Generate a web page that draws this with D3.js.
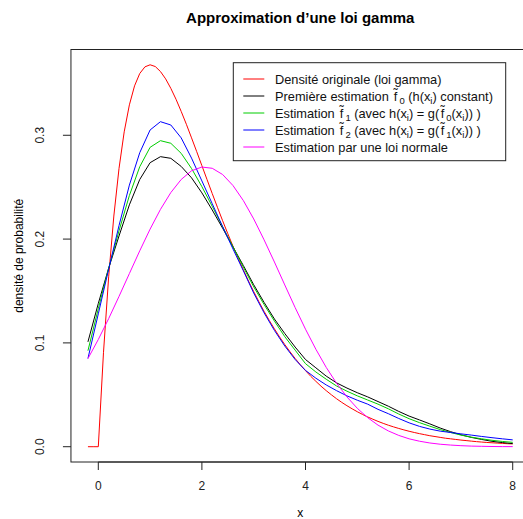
<!DOCTYPE html>
<html><head><meta charset="utf-8">
<script src="https://cdn.jsdelivr.net/npm/d3@7"></script>
<style>body{margin:0;background:#fff}svg{display:block}text{font-family:"Liberation Sans",Arial,sans-serif}</style>
</head><body><svg id="c" width="523" height="519"></svg>
<script>
const xValues = [-0.2,0,0.2,0.4,0.6,0.8,1.0,1.2,1.4,1.6,1.8,2.0,2.2,2.4,2.6,2.8,3.0,3.2,3.4,3.6,3.8,4.0,4.2,4.4,4.6,4.8,5.0,5.2,5.4,5.6,5.8,6.0,6.2,6.4,6.6,6.8,7.0,7.2,7.4,7.6,7.8,8.0];
const xGamma = [-0.2,-0.1,0,0.1,0.2,0.3,0.4,0.5,0.6,0.7,0.8,0.9,1.0,1.1,1.2,1.3,1.4,1.5,1.6,1.7,1.8,1.9,2.0,2.1,2.2,2.3,2.4,2.5,2.6,2.7,2.8,2.9,3.0,3.1,3.2,3.3,3.4,3.5,3.6,3.7,3.8,3.9,4.0,4.1,4.2,4.3,4.4,4.5,4.6,4.7,4.8,4.9,5.0,5.1,5.2,5.3,5.4,5.5,5.6,5.7,5.8,5.9,6.0,6.1,6.2,6.3,6.4,6.5,6.6,6.7,6.8,6.9,7.0,7.1,7.2,7.3,7.4,7.5,7.6,7.7,7.8,7.9,8.0];
const gammaDensity = [0,0,0,0.0905,0.1637,0.2222,0.2681,0.3033,0.3293,0.3476,0.3595,0.3659,0.3679,0.3662,0.3614,0.3543,0.3452,0.3347,0.3230,0.3106,0.2975,0.2842,0.2707,0.2572,0.2438,0.2306,0.2177,0.2052,0.1931,0.1815,0.1703,0.1596,0.1494,0.1397,0.1304,0.1217,0.1135,0.1057,0.0984,0.0915,0.0850,0.0789,0.0733,0.0679,0.0630,0.0583,0.0540,0.0500,0.0462,0.0427,0.0395,0.0365,0.0337,0.0311,0.0287,0.0265,0.0244,0.0225,0.0207,0.0191,0.0176,0.0162,0.0149,0.0137,0.0126,0.0116,0.0106,0.0098,0.0090,0.0082,0.0076,0.0070,0.0064,0.0059,0.0054,0.0049,0.0045,0.0041,0.0038,0.0035,0.0032,0.0029,0.0027];
const estim0 = [0.101,0.138,0.172,0.203,0.233,0.2574,0.2736,0.2794,0.2778,0.2700,0.2590,0.2445,0.2280,0.2105,0.1925,0.1745,0.156,0.139,0.123,0.109,0.096,0.084,0.076,0.068,0.0615,0.0565,0.052,0.048,0.0435,0.039,0.034,0.0295,0.0258,0.022,0.018,0.0145,0.0115,0.009,0.007,0.0052,0.004,0.003];
const estim1 = [0.0925,0.133,0.172,0.208,0.242,0.2697,0.2884,0.2948,0.2923,0.2826,0.2680,0.2505,0.2315,0.2120,0.1925,0.1730,0.154,0.137,0.121,0.106,0.093,0.080,0.072,0.065,0.0585,0.0535,0.049,0.045,0.041,0.0365,0.0315,0.027,0.0232,0.0198,0.0165,0.0137,0.0112,0.0092,0.0076,0.0062,0.0051,0.0042];
const estim2 = [0.085,0.128,0.171,0.213,0.252,0.2832,0.3051,0.3131,0.3099,0.2975,0.2780,0.2560,0.2340,0.2120,0.1905,0.1695,0.148,0.129,0.112,0.097,0.084,0.0735,0.066,0.0595,0.054,0.049,0.0448,0.041,0.036,0.0318,0.0272,0.023,0.0196,0.017,0.015,0.0137,0.0124,0.0112,0.0099,0.0087,0.0076,0.0066];
const normalFit = [0.0849,0.1033,0.1234,0.1448,0.1668,0.1887,0.2096,0.2286,0.2448,0.2574,0.2658,0.2694,0.2682,0.2622,0.2516,0.2371,0.2194,0.1993,0.1779,0.1558,0.1340,0.1132,0.0939,0.0764,0.0611,0.0480,0.0370,0.0280,0.0208,0.0152,0.0109,0.0076,0.0053,0.0036,0.0024,0.0016,0.0010,0.0006,0.0004,0.0002,0.0001,0.0001];
const xTicks = [0,2,4,6,8];
const yTicks = [0.0,0.1,0.2,0.3];
const yTickLabels = ["0.0","0.1","0.2","0.3"];
const seriesColors = ["#ff0000","#000000","#00cd00","#0000ff","#ff00ff"];

const svg = d3.select("#c");
const x = d3.scaleLinear().domain([-0.528, 8.328]).range([70.95, 529.7]);
const y = d3.scaleLinear().domain([-0.01472, 0.38262]).range([462, 49.5]);

// title
svg.append("text").attr("x",300.3).attr("y",22.5).attr("text-anchor","middle")
  .attr("font-size","15px").attr("font-weight","bold").text("Approximation d’une loi gamma");

// series
const seriesList = [[xGamma,gammaDensity],[xValues,estim0],[xValues,estim1],[xValues,estim2],[xValues,normalFit]];
seriesList.forEach(([xs,s],k)=>{
  const line = d3.line().x((d,i)=>x(xs[i])).y(d=>y(d));
  svg.append("path").attr("d", line(s)).attr("fill","none")
    .attr("stroke", seriesColors[k]).attr("stroke-width",1);
});

// box
svg.append("rect").attr("x",70.95).attr("y",49.5).attr("width",529.7-70.95).attr("height",462-49.5)
  .attr("fill","none").attr("stroke","#222").attr("stroke-width",1);

// x axis
const gx = svg.append("g").attr("transform","translate(0,462)");
gx.append("line").attr("x1",x(0)).attr("x2",x(8)).attr("stroke","#222");
xTicks.forEach(t=>{
  gx.append("line").attr("x1",x(t)).attr("x2",x(t)).attr("y1",0).attr("y2",8).attr("stroke","#222");
  gx.append("text").attr("x",x(t)).attr("y",28).attr("text-anchor","middle").attr("font-size","12px").attr("fill","#222").text(t);
});
// y axis
const gy = svg.append("g").attr("transform","translate(70.95,0)");
yTicks.forEach((t,i)=>{
  gy.append("line").attr("x1",0).attr("x2",-8).attr("y1",y(t)).attr("y2",y(t)).attr("stroke","#222");
  gy.append("text").attr("transform",`translate(-26.5,${y(t)}) rotate(-90)`).attr("text-anchor","middle")
    .attr("font-size","12px").attr("fill","#222").text(yTickLabels[i]);
});
// axis labels
svg.append("text").attr("x",300.3).attr("y",516.5).attr("text-anchor","middle").attr("font-size","12px").text("x");
svg.append("text").attr("transform",`translate(22.5,${(462+49.5)/2}) rotate(-90)`).attr("text-anchor","middle")
  .attr("font-size","12px").text("densité de probabilité");

// legend
const lg = svg.append("g");
lg.append("rect").attr("x",233.3).attr("y",62.7).attr("width",505.7-233.3).attr("height",160.7-62.7)
  .attr("fill","#fff").attr("stroke","#222");
const rowsY = [79, 96, 113, 130, 147];
const legendItems = [
  [["Densité originale (loi gamma)"]],
  [["Première estimation "],["f","t"],["0","s"],["\u00a0(h(x"],["i","s"],[") constant)"]],
  [["Estimation "],["f","t"],["1","s"],["\u00a0(avec h(x"],["i","s"],[")\u00a0=\u00a0g("],["f","t"],["0","s"],["(x"],["i","s"],[")) )"]],
  [["Estimation "],["f","t"],["2","s"],["\u00a0(avec h(x"],["i","s"],[")\u00a0=\u00a0g("],["f","t"],["1","s"],["(x"],["i","s"],[")) )"]],
  [["Estimation par une loi normale"]]
];
legendItems.forEach((parts,k)=>{
  lg.append("line").attr("x1",243.3).attr("x2",264.3).attr("y1",rowsY[k]).attr("y2",rowsY[k]).attr("stroke",seriesColors[k]);
  const t = lg.append("text").attr("x",275).attr("y",rowsY[k]+4.5).attr("font-size","12.8px").attr("fill","#111");
  let shifted = false, prevTilde = false;
  parts.forEach(p=>{
    const ts = t.append("tspan");
    let dy = 0;
    if (p[1]==="s") { if(!shifted){dy=3; shifted=true;} ts.attr("font-size","9.5px"); if(prevTilde) ts.attr("dx",2); }
    else { if(shifted){dy=-3; shifted=false;} }
    if (dy) ts.attr("dy",dy);
    if (p[1]==="t") { ts.text("f\u0303"); ts.attr("dx",1.5); prevTilde = true; }
    else { ts.text(p[0]); prevTilde = false; }
  });
});
</script></body></html>
